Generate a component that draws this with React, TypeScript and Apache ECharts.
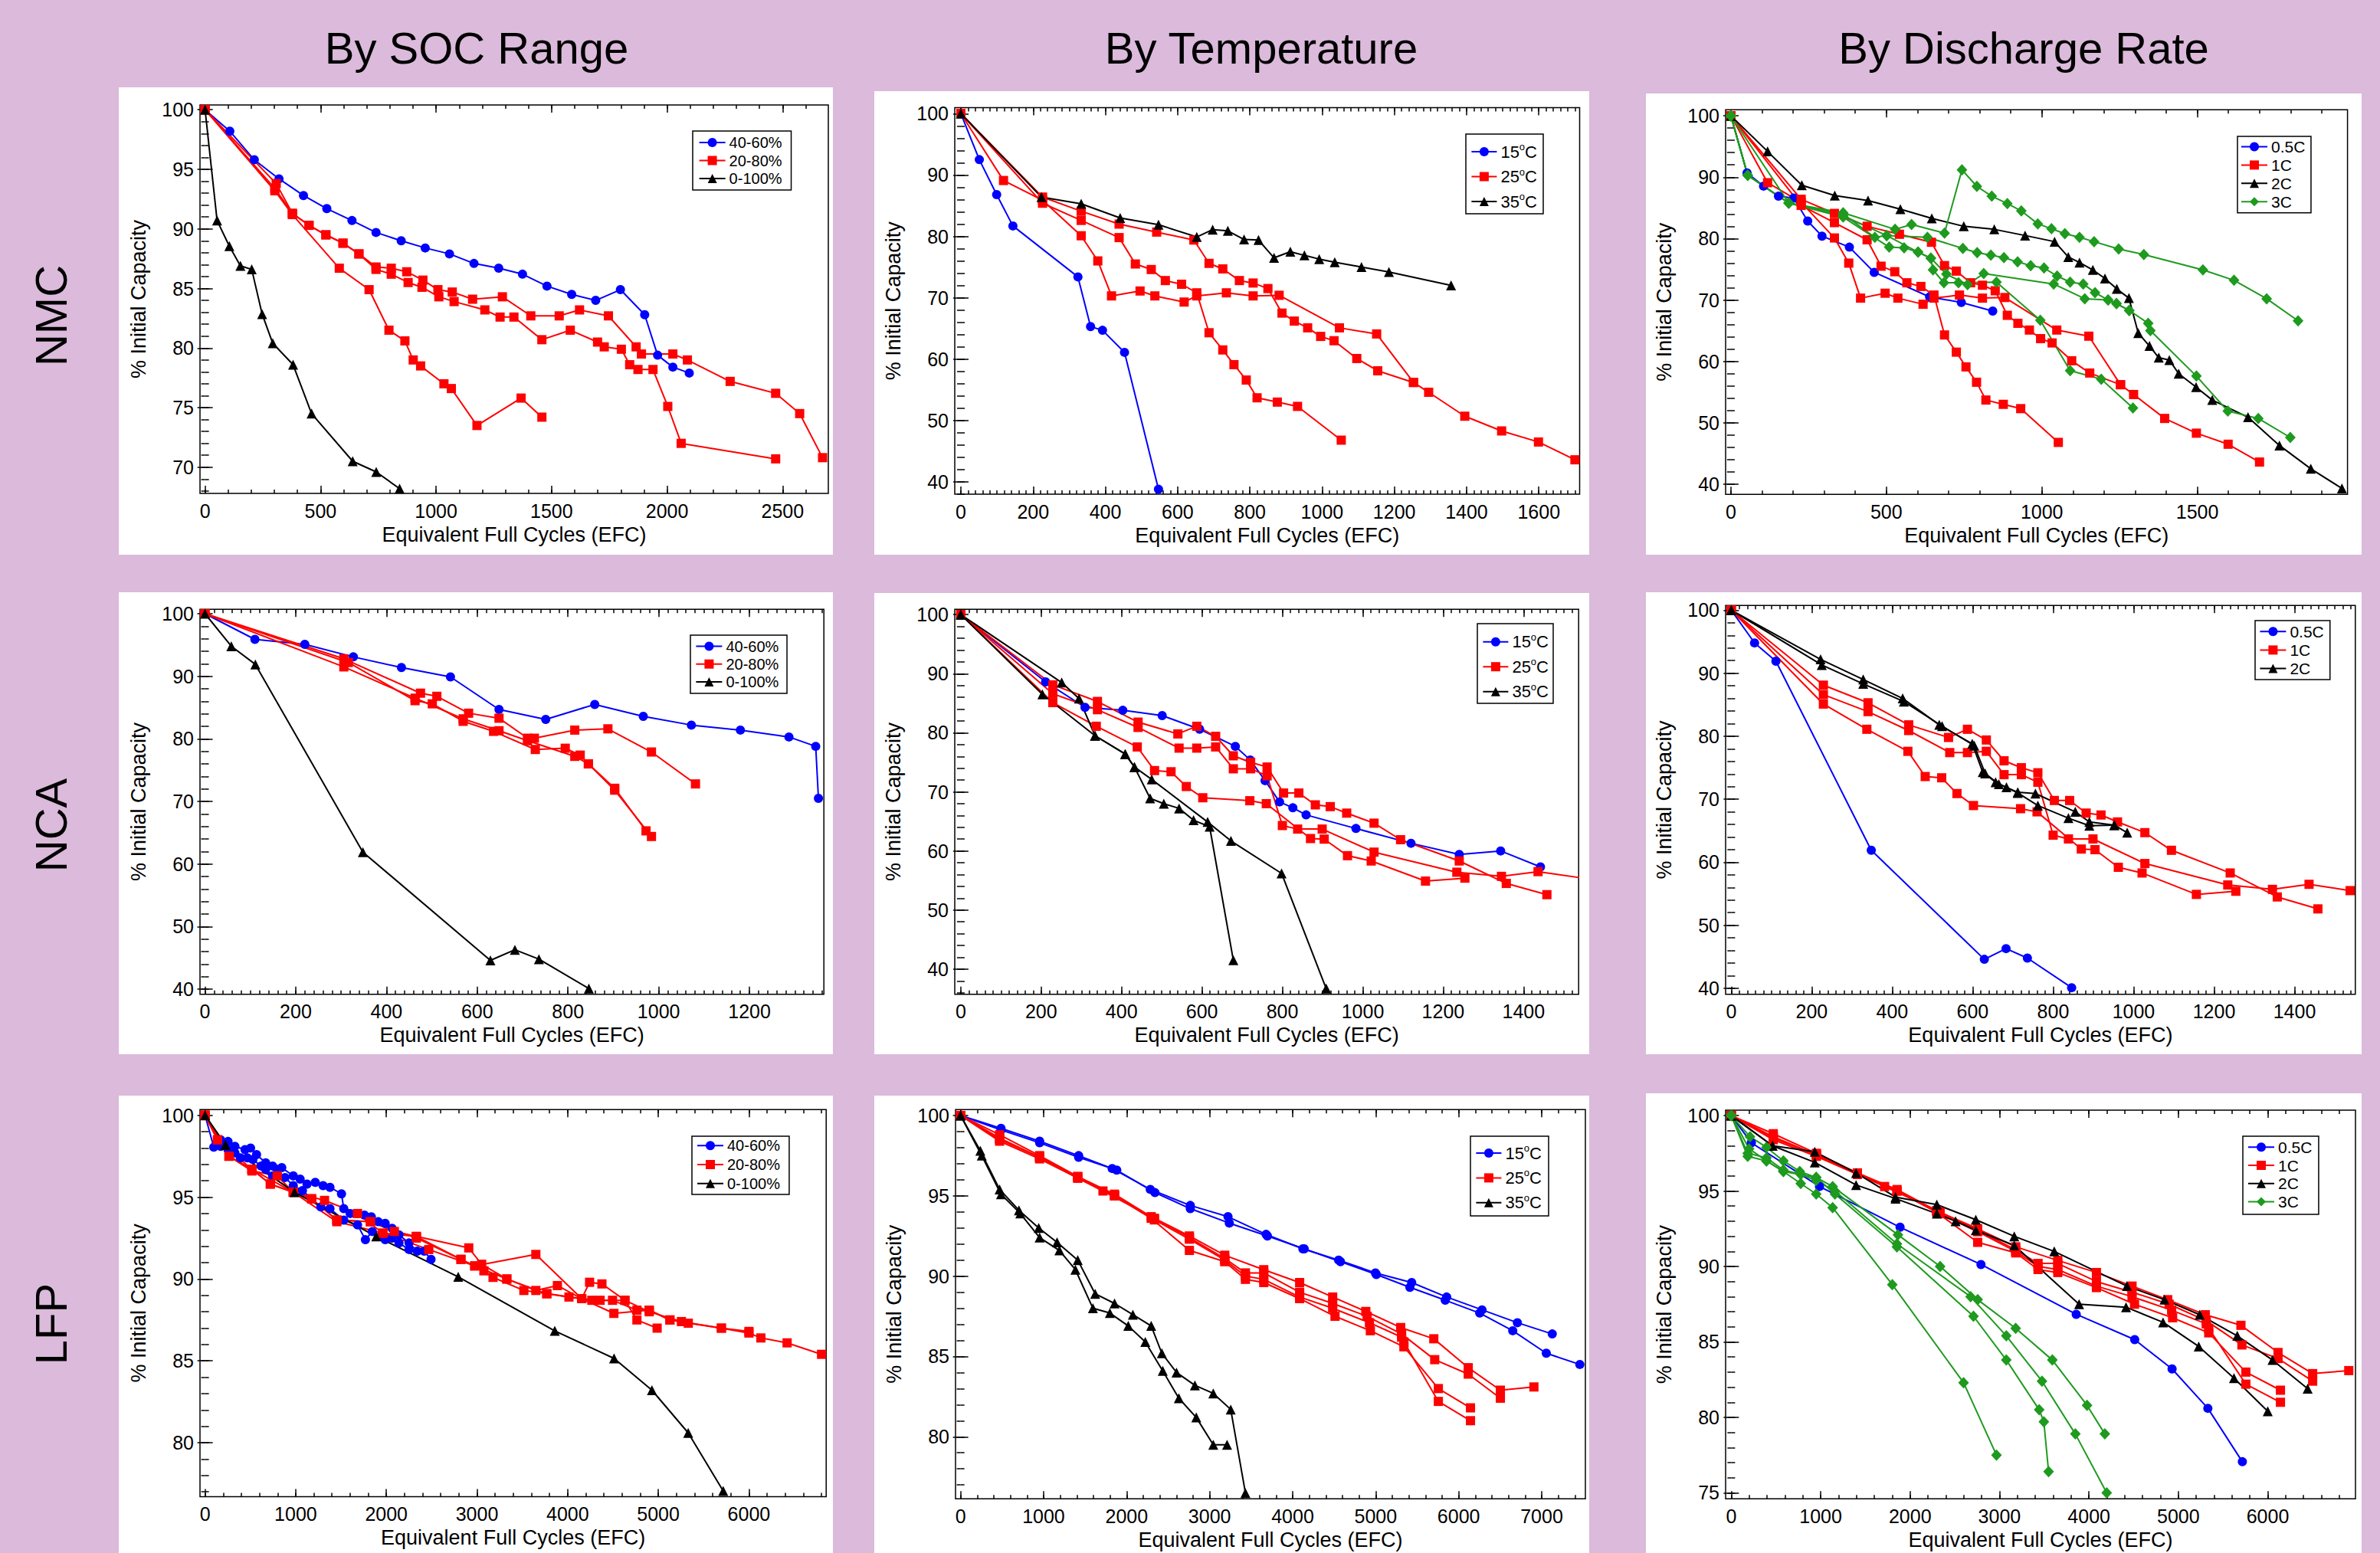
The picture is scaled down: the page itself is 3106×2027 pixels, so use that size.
import React, { useEffect, useRef } from "react";
import * as echarts from "echarts";

// ===================== DATA (EFC, % initial capacity) =====================
// ---- NMC ----
const NMC_SOC_40_60 = [[0,100],[107,98.2],[213,95.8],[320,94.2],[426,92.8],[527,91.7],[636,90.7],[740,89.7],[849,89.0],[953,88.4],[1058,87.9],[1164,87.1],[1271,86.7],[1374,86.2],[1480,85.2],[1587,84.5],[1691,84.0],[1798,84.9],[1903,82.8],[1959,79.4],[2025,78.4],[2096,77.9]];
const NMC_SOC_20_80_A = [[0,100],[302,93.2],[378,91.2],[581,86.7],[710,84.9],[796,81.5],[865,80.6],[901,79.0],[933,78.5],[1034,77.0],[1066,76.6],[1177,73.5],[1368,75.8],[1458,74.2]];
const NMC_SOC_20_80_B = [[0,100],[308,93.8],[378,91.3],[450,90.3],[523,89.5],[597,88.8],[666,87.9],[740,86.8],[806,86.7],[873,86.4],[943,85.7],[1008,84.9],[1070,84.7],[1158,84.1],[1287,84.3],[1410,82.7],[1533,82.7],[1621,83.2],[1746,82.7],[1866,80.1],[1889,79.5],[2025,79.5],[2088,79.0],[2273,77.2],[2470,76.2],[2574,74.5],[2673,70.8]];
const NMC_SOC_20_80_C = [[0,100],[302,93.4],[378,91.3],[450,90.3],[523,89.5],[597,88.8],[666,87.9],[740,86.6],[806,86.2],[879,85.5],[939,85.1],[1012,84.3],[1078,83.9],[1211,83.2],[1277,82.6],[1337,82.6],[1458,80.7],[1581,81.5],[1699,80.5],[1728,80.1],[1802,79.9],[1838,78.6],[1874,78.2],[1939,78.2],[2003,75.1],[2061,72.0],[2470,70.7]];
const NMC_SOC_0_100 = [[0,100],[52,90.7],[105,88.55],[153,86.9],[202,86.6],[247,82.85],[293,80.4],[381,78.6],[461,74.5],[639,70.5],[741,69.6],[842,68.2]];
const NMC_T15 = [[0,100],[51,92.5],[99,86.8],[144,81.7],[324,73.4],[359,65.3],[392,64.7],[453,61.1],[547,38.8]];
const NMC_T25_A = [[0,100],[226,86.4],[333,84.1],[438,82.0],[542,80.7],[645,79.4],[687,75.6],[725,74.7],[771,72.8],[809,72.4],[850,71.5],[889,67.5],[923,66.2],[960,65.1],[996,63.7],[1033,63.0],[1096,60.1],[1154,58.1],[1253,56.2],[1295,54.6],[1395,50.7],[1497,48.3],[1599,46.5],[1700,43.6]];
const NMC_T25_B = [[0,100],[118,89.1],[226,85.9],[333,80.1],[379,76.0],[417,70.3],[496,71.1],[537,70.3],[618,69.3],[653,70.3],[735,70.8],[809,70.3],[881,70.4],[1048,65.1],[1151,64.1],[1253,56.2]];
const NMC_T25_C = [[0,100],[226,85.4],[333,82.6],[438,79.8],[483,75.5],[527,74.6],[566,72.8],[611,72.2],[653,70.8],[687,64.3],[725,61.5],[756,59.1],[790,56.6],[820,53.7],[876,53.0],[932,52.3],[1053,46.8]];
const NMC_T35 = [[0,100],[223,86.4],[333,85.3],[441,83.0],[547,81.9],[653,79.9],[697,81.1],[739,80.9],[784,79.5],[824,79.4],[867,76.5],[912,77.5],[951,76.9],[992,76.3],[1035,75.8],[1109,75.0],[1185,74.2],[1357,72.0]];
const NMC_RATE_2C = [[0,100],[118,94.2],[228,88.7],[334,87.0],[441,86.2],[545,84.8],[646,83.3],[749,82.0],[847,81.5],[946,80.5],[1041,79.5],[1085,77.0],[1121,76.1],[1164,74.9],[1203,73.5],[1241,71.8],[1280,70.3],[1310,64.6],[1346,62.5],[1376,60.6],[1410,60.2],[1440,58.0],[1496,55.8],[1548,53.7],[1663,50.9],[1764,46.3],[1865,42.5],[1965,39.3]];
const NMC_RATE_3C_A = [[0,100],[54,90.3],[186,85.8],[361,84.2],[528,81.5],[581,82.3],[687,80.9],[743,91.2],[791,88.5],[839,86.9],[889,85.7],[934,84.5],[987,82.4],[1031,81.6],[1074,80.8],[1121,80.2],[1168,79.5],[1247,78.3],[1328,77.4],[1518,74.9],[1618,73.2],[1723,70.2],[1824,66.6]];
const NMC_RATE_3C_B = [[0,100],[54,90.3],[186,85.8],[361,84.0],[463,80.2],[501,80.5],[632,80.2],[746,78.4],[792,77.7],[836,77.3],[878,76.9],[922,76.2],[964,75.6],[1007,75.2],[1049,73.9],[1091,72.9],[1133,72.6],[1171,71.2],[1213,70.0],[1240,69.4],[1281,68.3],[1342,66.2],[1349,65.0],[1497,57.6],[1598,51.9],[1696,50.7],[1799,47.6]];
const NMC_RATE_3C_C = [[0,100],[186,85.8],[361,83.5],[509,78.6],[557,78.5],[602,77.8],[643,76.8],[650,74.9],[685,72.8],[732,72.8],[854,72.9],[995,66.7],[1091,58.5],[1191,57.1],[1293,52.4]];
const NMC_RATE_3C_D = [[0,100],[54,90.3],[186,85.8],[361,83.7],[501,80.5],[602,77.8],[643,76.8],[693,74.2],[761,72.5],[813,74.3],[1038,72.6],[1138,70.2],[1213,70.0],[1240,69.4],[1281,68.3]];

// ---- NCA ----
const NCA_SOC_40_60 = [[0,100],[110,95.9],[220,95.1],[327,93.1],[433,91.4],[541,89.9],[648,84.7],[751,83.1],[859,85.5],[966,83.6],[1072,82.2],[1180,81.4],[1287,80.3],[1346,78.8],[1352,70.5]];
const NCA_SOC_20_80_A = [[0,100],[306,92.8],[475,87.3],[511,86.8],[581,84.1],[648,83.3],[711,80.1],[726,80.1],[815,81.4],[888,81.6],[984,77.9],[1081,72.8]];
const NCA_SOC_20_80_B = [[0,100],[316,92.2],[463,86.1],[501,85.6],[569,82.8],[636,81.2],[728,78.3],[794,78.5],[827,77.4],[845,76.0],[903,72.1],[972,65.3]];
const NCA_SOC_20_80_C = [[0,100],[306,91.5],[463,86.5],[569,83.2],[648,81.3],[711,79.7],[815,77.2],[845,76.0],[903,71.8],[984,64.4]];
const NCA_SOC_0_100 = [[0,100],[58,94.8],[111,91.9],[348,61.9],[629,44.6],[683,46.3],[736,44.8],[846,40.1]];
const NCA_T15 = [[0,100],[211,88.6],[309,84.3],[403,83.8],[501,82.9],[594,80.6],[683,77.7],[720,75.4],[757,71.9],[793,68.3],[826,67.3],[859,66.1],[983,63.8],[1120,61.3],[1240,59.4],[1343,60.0],[1442,57.3]];
const NCA_T25_A = [[0,100],[229,88.1],[340,85.3],[441,81.8],[540,79.8],[587,81.1],[634,79.4],[678,76.1],[721,75.0],[762,74.2],[803,69.8],[841,69.8],[882,67.8],[919,67.5],[960,66.4],[1028,64.7],[1094,61.9],[1240,58.3],[1357,54.5],[1458,52.6]];
const NCA_T25_B = [[0,100],[229,86.6],[340,83.9],[441,80.9],[543,77.4],[587,77.4],[634,77.6],[678,73.9],[721,73.9],[762,72.7],[800,64.3],[838,63.7],[899,63.7],[1028,59.8],[1234,56.4],[1345,55.7],[1436,56.5],[1538,55.5]];
const NCA_T25_C = [[0,100],[229,85.1],[337,81.1],[439,77.6],[482,73.6],[523,73.4],[561,70.9],[602,69.0],[719,68.5],[760,68.0],[870,62.1],[904,62.0],[962,59.2],[1021,58.3],[1156,54.9],[1254,55.4]];
const NCA_T35_A = [[0,100],[203,86.5],[334,79.5],[409,76.4],[432,74.2],[471,68.9],[505,68.0],[543,67.2],[579,65.2],[619,64.1],[678,41.5]];
const NCA_T35_B = [[0,100],[251,88.5],[294,85.8],[334,79.5],[409,76.4],[432,74.2],[475,72.1],[614,64.9],[672,61.7],[798,56.2],[909,36.7]];
const NCA_RATE_2C_A = [[0,100],[222,92.2],[328,89.0],[426,86.0],[517,81.8],[599,78.8],[625,74.3],[657,72.7],[684,71.9],[712,71.1],[756,70.9],[855,68.0],[890,66.4],[952,65.9],[984,64.7]];
const NCA_RATE_2C_B = [[0,100],[225,91.3],[328,88.3],[429,85.5],[524,81.6],[604,78.5],[631,74.1],[665,72.4],[712,71.0],[762,69.0],[838,67.0],[890,65.8],[952,65.9]];

// ---- LFP ----
const LFP_SOC_40_60_A = [[0,100],[172,98.5],[253,98.4],[329,98.1],[441,97.9],[502,98.0],[568,97.6],[669,97.1],[745,96.9],[796,96.7],[846,96.8],[973,96.3],[1049,96.1],[1125,95.8],[1216,95.9],[1302,95.7],[1378,95.6],[1505,95.2],[1530,94.3],[1601,94.0],[1682,94.0],[1758,93.9],[1834,93.8],[1910,93.5],[1987,93.4],[2063,93.1],[2139,92.7],[2250,92.2],[2341,91.7],[2417,91.7],[2493,91.2]];
const LFP_SOC_40_60_B = [[0,100],[96,98.05],[172,98.1],[253,97.9],[329,97.7],[390,97.4],[466,97.4],[527,97.3],[618,96.9],[669,96.7],[745,96.3],[796,96.4],[882,96.2],[973,95.7],[1074,95.4],[1176,94.9],[1277,94.4],[1378,94.3],[1530,93.6],[1682,93.3],[1769,92.4],[1845,92.9],[1936,92.6],[1987,92.4],[2063,92.5],[2139,92.2],[2250,91.8]];
const LFP_SOC_20_80_A = [[0,100],[137,98.5],[264,97.5],[517,96.7],[720,95.8],[973,95.3],[1176,94.9],[1454,93.6],[1824,93.5],[2088,92.9],[2331,92.6],[2823,91.2],[3076,90.5],[3177,90.1],[3517,89.3],[3770,89.1],[4014,88.9],[4267,88.7],[4495,88.7],[4764,88.1],[4900,88.1],[5128,87.5],[5331,87.3],[5696,87.0],[6000,86.7],[6132,86.4],[6421,86.1],[6801,85.4]];
const LFP_SOC_20_80_B = [[0,100],[264,97.5],[517,96.6],[796,96.3],[973,95.3],[1318,94.8],[1682,94.0],[1961,92.8],[2331,92.6],[2909,91.9],[3051,90.9],[3329,90.0],[3649,89.3],[3887,89.6],[4155,88.8],[4358,88.7],[4632,88.7],[4900,88.0],[5255,87.4],[5696,87.0],[6000,86.8]];
const LFP_SOC_20_80_C = [[0,100],[264,97.5],[517,96.7],[720,95.8],[1176,94.9],[1454,93.6],[1824,93.5],[2331,92.5],[2823,91.2],[2975,90.8],[3649,91.5],[4155,88.8],[4242,89.8],[4378,89.7],[4632,88.7],[4764,87.5],[4987,87.0]];
const LFP_SOC_20_80_D = [[0,100],[137,98.5],[517,96.7],[973,95.3],[1454,93.5],[1961,92.8],[2468,91.8],[2975,90.8],[3329,90.0],[3770,89.1],[4155,88.8],[4510,87.9],[4900,88.1],[5128,87.5]];
const LFP_SOC_0_100 = [[0,100],[225,98.2],[987,95.3],[1888,92.6],[2793,90.13],[3858,86.83],[4512,85.15],[4930,83.21],[5330,80.6],[5716,77.06]];
const LFP_T15_A = [[0,100],[487,99.2],[952,98.4],[1422,97.5],[1826,96.7],[2285,95.4],[2767,94.4],[3221,93.7],[3680,92.6],[4123,91.7],[4554,91.0],[4997,90.2],[5434,89.6],[5855,88.7],[6281,87.9],[6707,87.1],[7127,86.4]];
const LFP_T15_B = [[0,100],[487,99.1],[952,98.3],[1422,97.4],[1881,96.6],[2341,95.2],[2767,94.2],[3237,93.3],[3696,92.5],[4139,91.7],[4576,90.9],[5008,90.1],[5412,89.3],[5838,88.5],[6253,87.7],[6651,86.6],[7055,85.2],[7459,84.5]];
const LFP_T25_A = [[0,100],[470,98.8],[952,97.5],[1411,96.2],[1854,95.1],[2296,93.7],[2756,92.5],[3182,91.3],[3652,90.4],[4084,89.6],[4482,88.7],[4881,87.8],[5301,86.8],[5700,86.1],[6115,84.3],[6502,82.9],[6906,83.1]];
const LFP_T25_B = [[0,100],[470,98.6],[952,97.4],[1411,96.1],[1715,95.3],[2335,93.6],[2756,92.4],[3182,91.1],[3431,90.2],[3652,90.2],[4084,89.0],[4482,88.3],[4897,87.5],[5312,86.4],[5711,84.8],[6115,83.9],[6502,82.4]];
const LFP_T25_C = [[0,100],[470,98.4],[952,97.3],[1411,96.1],[1854,95.0],[2296,93.6],[2756,91.6],[3182,90.9],[3431,89.8],[3652,89.6],[4084,88.6],[4510,87.5],[4936,86.6],[5340,85.6],[5755,83.0],[6142,81.8]];
const LFP_T25_D = [[0,100],[470,98.5],[952,97.4],[1411,96.2],[1854,95.0],[2335,93.5],[2756,92.3],[3182,91.0],[3431,90.0],[3652,89.8],[4084,88.7],[4482,88.0],[4925,87.1],[5312,86.2],[5340,85.9],[5755,82.2],[6142,81.0]];
const LFP_T35_A = [[0,100],[238,97.8],[470,95.4],[703,94.1],[941,93.0],[1162,92.1],[1411,91.0],[1621,88.9],[1854,88.3],[2075,87.6],[2296,86.9],[2424,85.2],[2601,84.0],[2822,83.2],[3044,82.7],[3254,81.7],[3431,76.5]];
const LFP_T35_B = [[0,100],[255,97.5],[487,95.1],[719,93.9],[952,92.4],[1190,91.6],[1383,90.4],[1594,88.0],[1798,87.7],[2020,86.9],[2225,85.9],[2435,84.1],[2629,82.4],[2839,81.2],[3044,79.5],[3210,79.5]];
const LFP_RATE_2C_A = [[0,100],[462,98.0],[934,97.6],[1396,96.2],[1837,94.6],[2299,94.1],[2735,93.1],[3165,92.0],[3612,91.0],[4425,88.7],[4845,87.8],[5239,86.8],[5659,85.4],[6053,83.8],[6446,81.9]];
const LFP_RATE_2C_B = [[0,100],[462,98.0],[934,96.9],[1396,95.4],[1837,94.5],[2299,93.5],[2509,93.0],[2735,92.4],[3165,91.4],[3890,87.5],[4415,87.3],[4829,86.3],[5228,84.7],[5622,82.6],[6000,80.4]];
const LFP_RATE_3C_A = [[0,100],[200,97.8],[394,97.0],[583,96.3],[777,95.5],[950,94.8],[1134,93.9],[1801,88.8],[2598,82.3],[2966,77.5]];
const LFP_RATE_3C_B = [[0,100],[184,97.3],[394,97.0],[583,96.3],[950,95.9],[1160,94.8],[1853,91.3],[2709,86.7],[3076,83.8],[3444,80.5],[3496,79.7],[3549,76.4]];
const LFP_RATE_3C_C = [[0,100],[210,98.6],[394,97.9],[583,97.0],[766,96.3],[950,95.9],[1134,95.3],[1864,92.1],[2336,90.0],[2756,87.8],[3181,85.9],[3591,83.8],[3979,80.8],[4178,78.9]];
const LFP_RATE_3C_D = [[0,100],[184,97.5],[394,97.2],[583,96.4],[777,96.1],[950,95.7],[1160,95.0],[1853,91.5],[2677,88.0],[3076,85.4],[3475,82.4],[3848,78.9],[4199,75.0]];

// ---- tick labels ----
const X_TICKS_NMC_SOC = [0, 500, 1000, 1500, 2000, 2500];
const X_TICKS_NMC_T = [0, 200, 400, 600, 800, 1000, 1200, 1400, 1600];
const X_TICKS_NMC_RATE = [0, 500, 1000, 1500];
const X_TICKS_NCA_SOC = [0, 200, 400, 600, 800, 1000, 1200];
const X_TICKS_NCA = [0, 200, 400, 600, 800, 1000, 1200, 1400];
const X_TICKS_LFP_SOC = [0, 1000, 2000, 3000, 4000, 5000, 6000];
const X_TICKS_LFP_T = [0, 1000, 2000, 3000, 4000, 5000, 6000, 7000];
const X_TICKS_LFP_RATE = [0, 1000, 2000, 3000, 4000, 5000, 6000];
const Y_TICKS_NMC_SOC = [70, 75, 80, 85, 90, 95, 100];
const Y_TICKS_40_100 = [40, 50, 60, 70, 80, 90, 100];
const Y_TICKS_LFP = [80, 85, 90, 95, 100];
const Y_TICKS_LFP_RATE = [75, 80, 85, 90, 95, 100];

const COLUMN_TITLES = ["By SOC Range", "By Temperature", "By Discharge Rate"];
const ROW_LABELS = ["NMC", "NCA", "LFP"];
const X_NAME = "Equivalent Full Cycles (EFC)";
const Y_NAME = "% Initial Capacity";

// ===================== STYLE / LAYOUT =====================
const FONT = '"Liberation Sans", Arial, Helvetica, sans-serif';
const BG = "#dbbadb";
const KIND: any = {
  blue: { color: "#0000ff", symbol: "circle", size: 12 },
  red: { color: "#ff0000", symbol: "rect", size: 12 },
  black: { color: "#000000", symbol: "triangle", size: 13 },
  green: { color: "#1e9a1e", symbol: "diamond", size: [14, 15] },
};

const PANELS: any[] = [
  { box: [155, 114, 932, 610], grid: [261, 137, 820, 507], x: [-22, 2698], y: [67.8, 100.4], xt: X_TICKS_NMC_SOC, yt: Y_TICKS_NMC_SOC, xm: 100, ym: 1,
    lg: { left: 904, top: 171, font: 20, rowH: 20, gap: 3.5, pad: [5, 12, 5, 7.6], iw: 34 },
    s: [["40-60%", "blue", NMC_SOC_40_60], ["20-80%", "red", NMC_SOC_20_80_A], ["20-80%", "red", NMC_SOC_20_80_B], ["20-80%", "red", NMC_SOC_20_80_C], ["0-100%", "black", NMC_SOC_0_100]] },
  { box: [1141, 119, 933, 605], grid: [1246, 140.5, 815.5, 504.5], x: [-17, 1713], y: [38.0, 100.97], xt: X_TICKS_NMC_T, yt: Y_TICKS_40_100, xm: 20, ym: 2,
    lg: { left: 1913, top: 175, font: 22, rowH: 26, gap: 6.5, pad: [10, 8, 3, 6.4], iw: 33 },
    s: [["15°C", "blue", NMC_T15], ["25°C", "red", NMC_T25_A], ["25°C", "red", NMC_T25_B], ["25°C", "red", NMC_T25_C], ["35°C", "black", NMC_T35]] },
  { box: [2148, 122, 934, 602], grid: [2252, 143.2, 811.6, 502], x: [-17, 1983], y: [38.34, 100.99], xt: X_TICKS_NMC_RATE, yt: Y_TICKS_40_100, xm: 100, ym: 2,
    lg: { left: 2920, top: 178, font: 21, rowH: 21, gap: 2.9, pad: [3, 7.6, 4, 4], iw: 34 },
    s: [["0.5C", "blue", NMC_SOC_0_100], ["1C", "red", NMC_T25_A], ["1C", "red", NMC_T25_B], ["1C", "red", NMC_T25_C], ["2C", "black", NMC_RATE_2C],
        ["3C", "green", NMC_RATE_3C_A], ["3C", "green", NMC_RATE_3C_B], ["3C", "green", NMC_RATE_3C_C], ["3C", "green", NMC_RATE_3C_D]] },
  { box: [155, 773, 932, 603], grid: [261, 795.2, 814.2, 502.5], x: [-11, 1364], y: [39.19, 100.71], xt: X_TICKS_NCA_SOC, yt: Y_TICKS_40_100, xm: 20, ym: 2,
    lg: { left: 901, top: 829, font: 20, rowH: 20, gap: 3.2, pad: [4.5, 10.7, 5, 6.4], iw: 34 },
    s: [["40-60%", "blue", NCA_SOC_40_60], ["20-80%", "red", NCA_SOC_20_80_A], ["20-80%", "red", NCA_SOC_20_80_B], ["20-80%", "red", NCA_SOC_20_80_C], ["0-100%", "black", NCA_SOC_0_100]] },
  { box: [1141, 774, 933, 602], grid: [1246, 795.2, 814.2, 502.5], x: [-15, 1537], y: [35.75, 100.9], xt: X_TICKS_NCA, yt: Y_TICKS_40_100, xm: 20, ym: 2,
    lg: { left: 1928, top: 814, font: 22, rowH: 26, gap: 6.5, pad: [10.7, 6, 2.3, 6.4], iw: 33 },
    s: [["15°C", "blue", NCA_T15], ["25°C", "red", NCA_T25_A], ["25°C", "red", NCA_T25_B], ["25°C", "red", NCA_T25_C], ["35°C", "black", NCA_T35_A], ["35°C", "black", NCA_T35_B]] },
  { box: [2148, 773, 934, 603], grid: [2252, 790.2, 821.8, 507.5], x: [-14, 1551], y: [39.06, 100.75], xt: X_TICKS_NCA, yt: Y_TICKS_40_100, xm: 20, ym: 2,
    lg: { left: 2943, top: 810, font: 21, rowH: 21, gap: 3.2, pad: [3.7, 8, 4, 5.4], iw: 34 },
    s: [["0.5C", "blue", NCA_SOC_0_100], ["1C", "red", NCA_T25_A], ["1C", "red", NCA_T25_B], ["1C", "red", NCA_T25_C], ["2C", "black", NCA_RATE_2C_A], ["2C", "black", NCA_RATE_2C_B]] },
  { box: [155, 1430, 932, 597], grid: [261, 1448.2, 817.2, 505.4], x: [-56, 6852], y: [76.7, 100.35], xt: X_TICKS_LFP_SOC, yt: Y_TICKS_LFP, xm: 200, ym: 1,
    lg: { left: 903, top: 1483, font: 20, rowH: 20, gap: 4.7, pad: [2.3, 12, 4.3, 6], iw: 34 },
    s: [["40-60%", "blue", LFP_SOC_40_60_A], ["40-60%", "blue", LFP_SOC_40_60_B], ["20-80%", "red", LFP_SOC_20_80_A], ["20-80%", "red", LFP_SOC_20_80_B], ["20-80%", "red", LFP_SOC_20_80_C], ["20-80%", "red", LFP_SOC_20_80_D], ["0-100%", "black", LFP_SOC_0_100]] },
  { box: [1141, 1430, 933, 597], grid: [1247, 1448.2, 822, 508], x: [-61, 7526], y: [76.14, 100.37], xt: X_TICKS_LFP_T, yt: Y_TICKS_LFP, xm: 200, ym: 1,
    lg: { left: 1919, top: 1483, font: 22, rowH: 26, gap: 6.4, pad: [9, 9, 4.2, 6.4], iw: 33 },
    s: [["15°C", "blue", LFP_T15_A], ["15°C", "blue", LFP_T15_B], ["25°C", "red", LFP_T25_A], ["25°C", "red", LFP_T25_B], ["25°C", "red", LFP_T25_C], ["25°C", "red", LFP_T25_D], ["35°C", "black", LFP_T35_A], ["35°C", "black", LFP_T35_B]] },
  { box: [2148, 1427, 934, 600], grid: [2252, 1449, 822, 507.3], x: [-63, 6981], y: [74.6, 100.36], xt: X_TICKS_LFP_RATE, yt: Y_TICKS_LFP_RATE, xm: 200, ym: 1,
    lg: { left: 2927, top: 1483, font: 21, rowH: 21, gap: 2.8, pad: [3.7, 8.6, 5.9, 6], iw: 34 },
    s: [["0.5C", "blue", LFP_SOC_0_100], ["1C", "red", LFP_T25_A], ["1C", "red", LFP_T25_B], ["1C", "red", LFP_T25_C], ["1C", "red", LFP_T25_D], ["2C", "black", LFP_RATE_2C_A], ["2C", "black", LFP_RATE_2C_B],
        ["3C", "green", LFP_RATE_3C_A], ["3C", "green", LFP_RATE_3C_B], ["3C", "green", LFP_RATE_3C_C], ["3C", "green", LFP_RATE_3C_D]] },
];

const TITLE_POS = [[622, 62], [1646, 62], [2641, 62]];
const ROW_POS = [[66, 412], [66, 1077], [66, 1728]];

function stepValues(min: number, max: number, step: number) {
  const out: number[] = [];
  for (let i = Math.ceil(min / step); i <= Math.floor(max / step); i++) out.push(Math.round(i * step * 1000) / 1000);
  return out;
}

function buildOption() {
  const option: any = {
    animation: false,
    backgroundColor: BG,
    grid: [], xAxis: [], yAxis: [], series: [], legend: [], graphic: [],
  };
  const tickLine = { color: "#000", width: 1.5 };
  const labelStyle = { color: "#000", fontSize: 25, fontFamily: FONT };

  PANELS.forEach((p, gi) => {
    const [bx, by, bw, bh] = p.box;
    option.graphic.push({ type: "rect", z: -10, silent: true, shape: { x: bx, y: by, width: bw, height: bh }, style: { fill: "#ffffff" } });
    const [gl, gt, gw, gh] = p.grid;
    option.grid.push({ left: gl, top: gt, width: gw, height: gh, show: true, borderColor: "#000", borderWidth: 1.5, backgroundColor: "transparent" });

    const xIdx = option.xAxis.length;
    const yIdx = option.yAxis.length;
    const xMinor = stepValues(p.x[0], p.x[1], p.xm);
    const yMinor = stepValues(p.y[0], p.y[1], p.ym);
    const axis = (pos: string, min: number, max: number, vals: number[], len: number, labels: boolean, extra: any = {}) => ({
      type: "value", gridIndex: gi, position: pos, min, max,
      splitLine: { show: false }, axisLine: { show: false },
      axisTick: { show: true, inside: true, length: len, customValues: vals, lineStyle: tickLine },
      axisLabel: labels ? { show: true, customValues: vals, formatter: (v: number) => String(v), margin: pos === "bottom" ? 10 : 8, ...labelStyle } : { show: false },
      ...extra,
    });
    option.xAxis.push(
      axis("bottom", p.x[0], p.x[1], p.xt, 10, true, {
        name: X_NAME, nameLocation: "middle", nameGap: 40,
        nameTextStyle: { color: "#000", fontSize: 27, fontFamily: FONT },
      }),
      axis("bottom", p.x[0], p.x[1], xMinor, 5, false),
      axis("top", p.x[0], p.x[1], p.xt, 10, false),
      axis("top", p.x[0], p.x[1], xMinor, 5, false),
    );
    option.yAxis.push(
      axis("left", p.y[0], p.y[1], p.yt, 10, true, {
        name: Y_NAME, nameLocation: "middle", nameGap: 67, nameRotate: 90,
        nameTextStyle: { color: "#000", fontSize: 27, fontFamily: FONT },
      }),
      axis("left", p.y[0], p.y[1], yMinor, 5, false),
      axis("right", p.y[0], p.y[1], p.yt, 10, false),
      axis("right", p.y[0], p.y[1], yMinor, 5, false),
    );

    const names: string[] = [];
    p.s.forEach(([name, kind, data]: any) => {
      const k = KIND[kind];
      if (!names.includes(name)) names.push(name);
      option.series.push({
        type: "line", name, data, xAxisIndex: xIdx, yAxisIndex: yIdx,
        symbol: k.symbol, symbolSize: k.size, showSymbol: true,
        lineStyle: { color: k.color, width: 2 },
        itemStyle: { color: k.color },
        silent: true, legendHoverLink: false, animation: false,
      });
    });

    const lg = p.lg;
    option.legend.push({
      show: true, orient: "vertical", left: lg.left, top: lg.top, data: names,
      padding: lg.pad, itemGap: lg.gap, itemWidth: lg.iw, itemHeight: 15,
      borderColor: "#000", borderWidth: 1.5, backgroundColor: "#fff",
      selectedMode: false,
      formatter: (n: string) => n.replace("°", "{sup|o}"),
      textStyle: {
        color: "#000", fontSize: lg.font, fontFamily: FONT, lineHeight: lg.rowH,
        rich: { sup: { fontSize: 13, fontFamily: FONT, color: "#000", verticalAlign: "top", lineHeight: 13 } },
      },
    });
  });

  COLUMN_TITLES.forEach((t, i) => {
    option.graphic.push({
      type: "text", x: TITLE_POS[i][0], y: TITLE_POS[i][1], silent: true,
      style: { text: t, fill: "#000", fontSize: 58, fontFamily: FONT, align: "center", verticalAlign: "middle", textAlign: "center", textVerticalAlign: "middle" },
    });
  });
  ROW_LABELS.forEach((t, i) => {
    option.graphic.push({
      type: "text", x: ROW_POS[i][0], y: ROW_POS[i][1], rotation: Math.PI / 2, silent: true,
      style: { text: t, fill: "#000", fontSize: 58, fontFamily: FONT, align: "center", verticalAlign: "middle", textAlign: "center", textVerticalAlign: "middle" },
    });
  });
  return option;
}

export default function App() {
  const ref = useRef<HTMLDivElement>(null);
  useEffect(() => {
    if (!ref.current) return;
    const chart = echarts.init(ref.current, null, { renderer: "svg" });
    chart.setOption(buildOption());
    return () => chart.dispose();
  }, []);
  return <div ref={ref} style={{ position: "fixed", left: 0, top: 0, width: 3106, height: 2027 }} />;
}
